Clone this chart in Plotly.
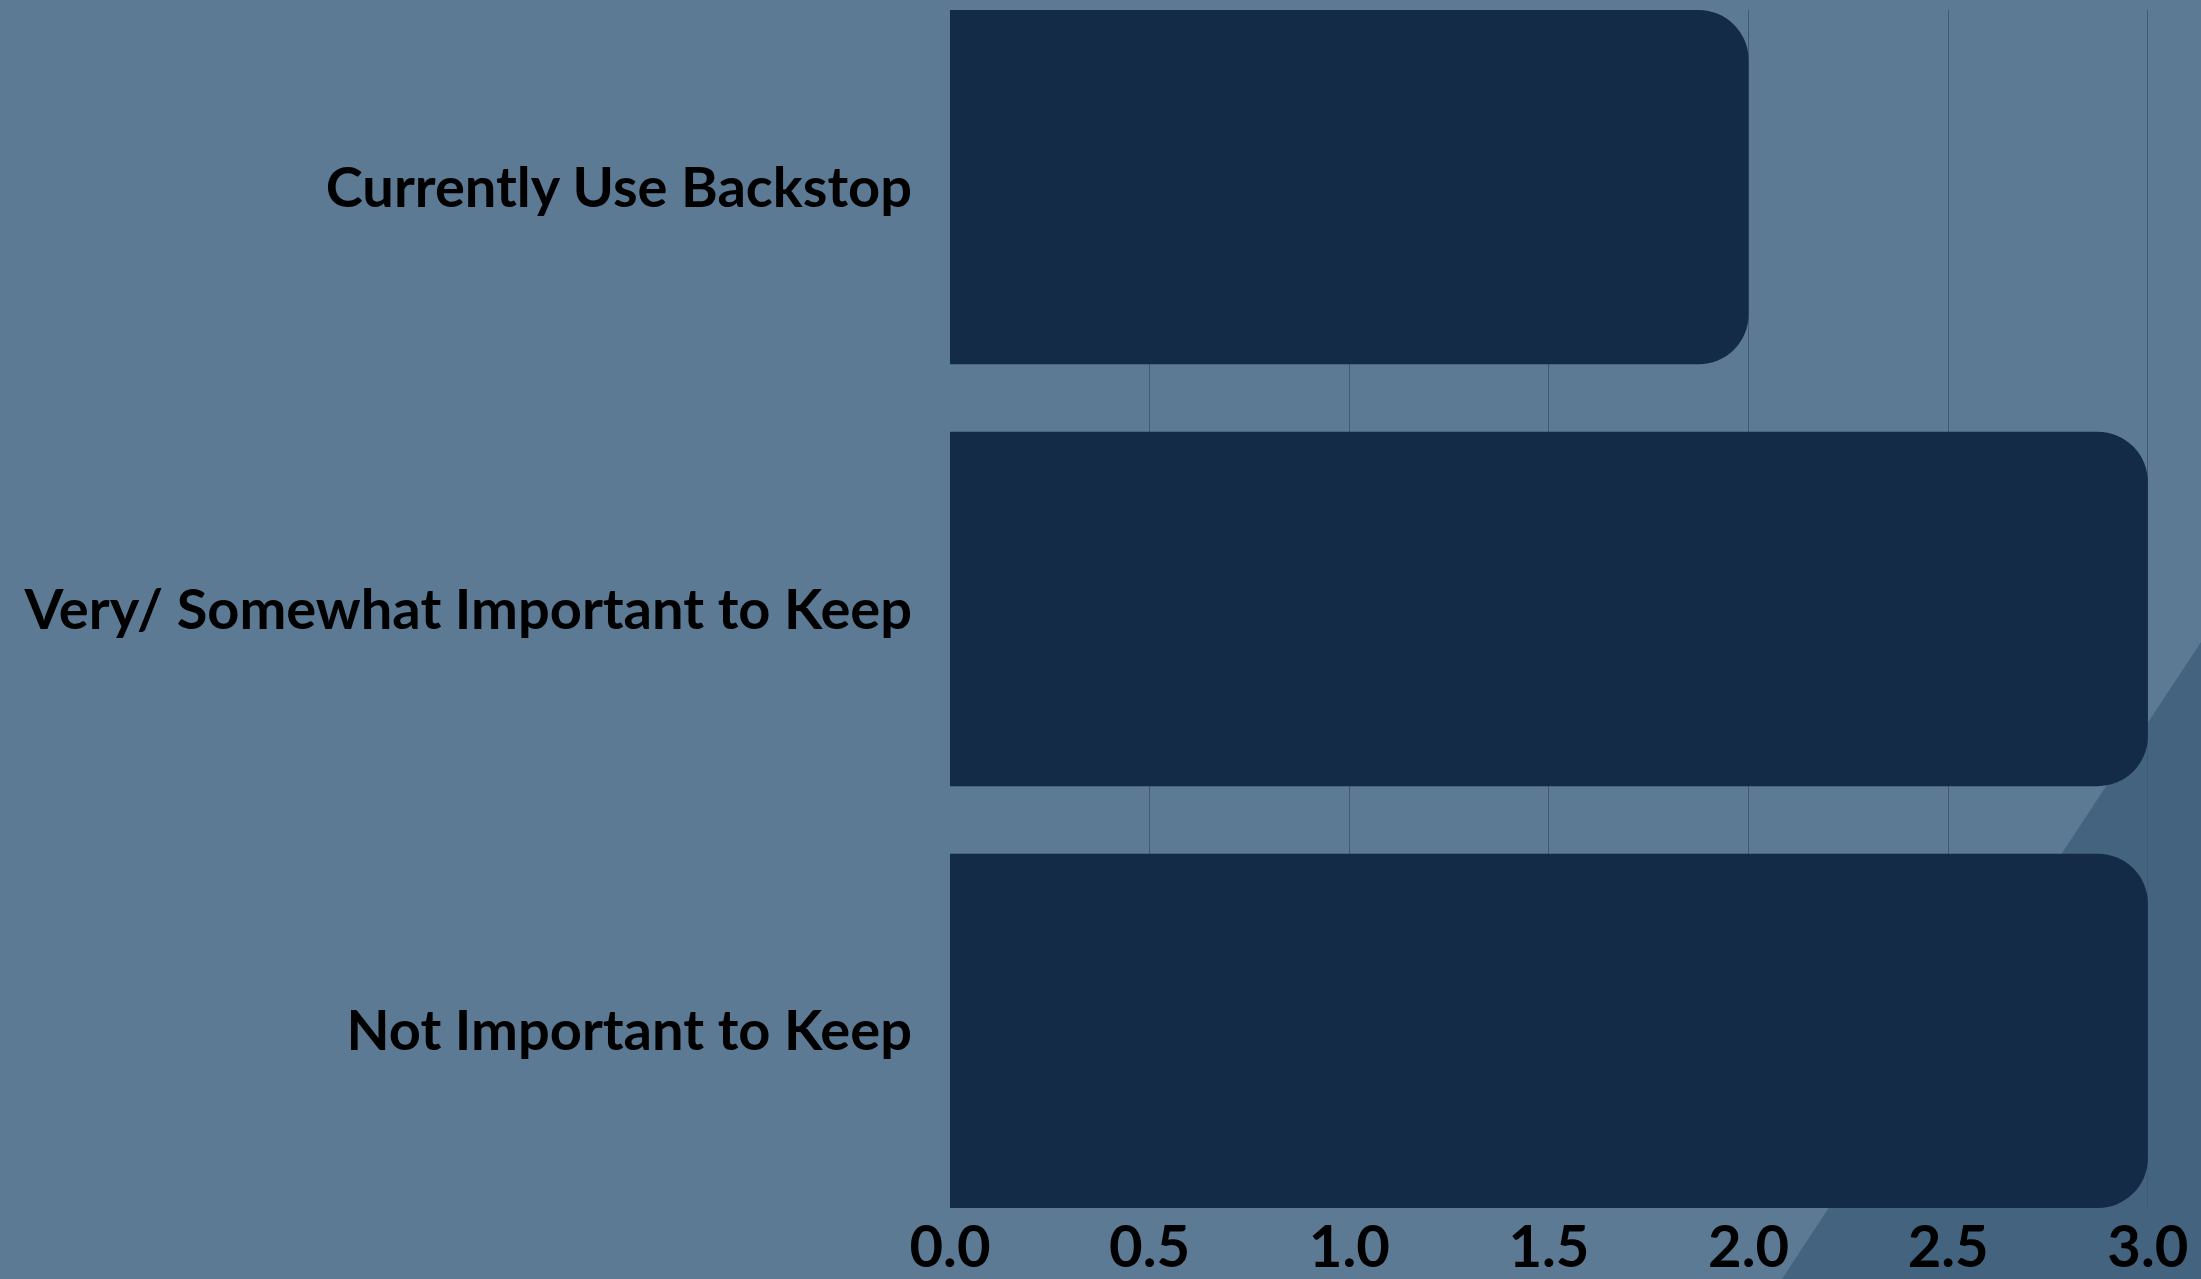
import plotly.graph_objects as go

categories = ["Currently Use Backstop", "Very/ Somewhat Important to Keep", "Not Important to Keep"]
values = [2, 3, 3]
tick_vals = [0, 0.5, 1, 1.5, 2, 2.5, 3]
tick_text = ["0.0", "0.5", "1.0", "1.5", "2.0", "2.5", "3.0"]

BG = "#5D7A95"
DARK_TRI = "#44637F"
BAR = "#132B46"
GRID = "#3F5873"

fig = go.Figure(go.Bar(
    x=values, y=categories, orientation="h",
    marker=dict(color=BAR, cornerradius=50, line=dict(width=0)),
    width=0.84,
))

fig.update_layout(
    width=2201, height=1279,
    margin=dict(l=950, r=0, t=10, b=71, autoexpand=False),
    paper_bgcolor=BG, plot_bgcolor="rgba(0,0,0,0)",
    showlegend=False,
    font=dict(family="Lato", color="#000000"),
    shapes=[dict(
        type="path", xref="paper", yref="paper", layer="below",
        path="M 1.0 0.4725 L 0.665 -0.0593 L 1.0 -0.0593 Z",
        fillcolor=DARK_TRI, line=dict(width=0),
    )],
)

fig.update_xaxes(
    range=[0, 3.133], tickvals=tick_vals, ticktext=tick_text,
    showgrid=True, gridcolor=GRID, gridwidth=1,
    zeroline=False, showline=False, automargin=False,
    tickfont=dict(size=58, family="Lato", weight="bold", color="#000000"),
    ticks="", ticklabelstandoff=0,
)
fig.update_yaxes(
    categoryorder="array", categoryarray=categories,
    range=[2.42, -0.42],
    showgrid=False, zeroline=False, showline=False, automargin=False,
    tickfont=dict(size=56, family="Lato", weight="bold", color="#000000"),
    ticks="", ticklabelstandoff=37,
)

fig.write_html(
    "out.html",
    config={"displayModeBar": False},
    post_script="document.body.style.margin='0';document.body.style.padding='0';document.body.style.overflow='hidden';",
)
